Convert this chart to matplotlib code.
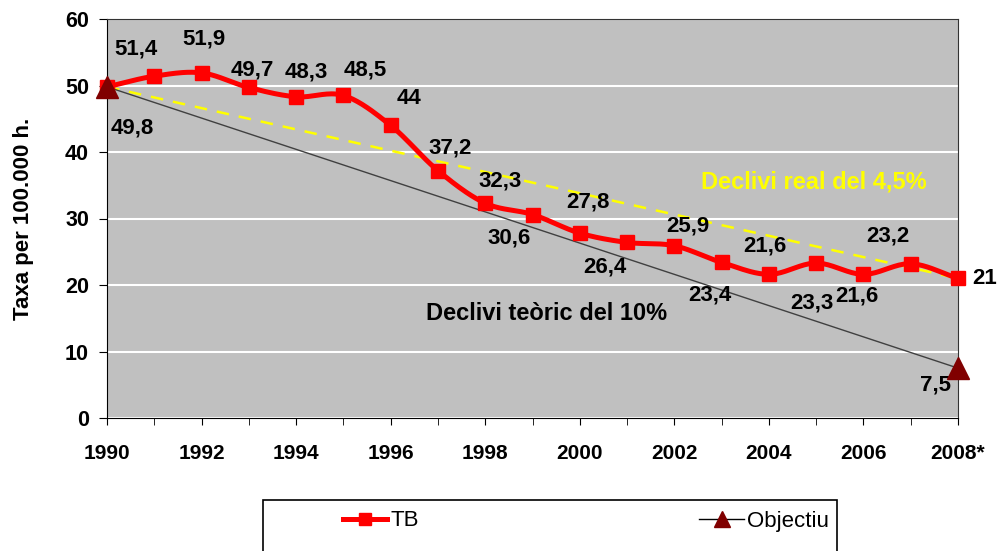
import numpy as np
import matplotlib.pyplot as plt
from matplotlib.lines import Line2D
from matplotlib.patches import Rectangle

plt.rcParams['font.family'] = ['Liberation Sans', 'DejaVu Sans']

# Data
years = np.arange(1990, 2009)
tb = [49.8, 51.4, 51.9, 49.7, 48.3, 48.5, 44, 37.2, 32.3, 30.6, 27.8,
      26.4, 25.9, 23.4, 21.6, 23.3, 21.6, 23.2, 21]
obj_years = [1990, 2008]
obj_vals = [49.8, 7.5]
real_vals = [49.8, 21]
xtick_years = list(range(1990, 2009, 2))
xtick_labels = [str(y) for y in xtick_years[:-1]] + ['2008*']

# label offsets in pixels (dx, dy) for each TB point
tb_off = [(25, -41), (-18, 27), (2, 34), (3, 17), (10, 25), (22, 25), (18, 27),
          (12, 23), (15, 22), (-23, -23), (8, 31), (-22, -25), (14, 20),
          (-12, -33), (-4, 28), (-4, -40), (-7, -22), (-23, 28), (27, 0)]


def smooth(x, y, n=20):
    # Catmull-Rom spline through the points (like Excel's smoothed line)
    x = np.asarray(x, float); y = np.asarray(y, float)
    px = np.concatenate([[2 * x[0] - x[1]], x, [2 * x[-1] - x[-2]]])
    py = np.concatenate([[2 * y[0] - y[1]], y, [2 * y[-1] - y[-2]]])
    xs, ys = [], []
    t = np.linspace(0, 1, n, endpoint=False)
    for i in range(1, len(px) - 2):
        for p, out in ((px, xs), (py, ys)):
            p0, p1, p2, p3 = p[i - 1], p[i], p[i + 1], p[i + 2]
            out.extend(0.5 * ((2 * p1) + (-p0 + p2) * t
                              + (2 * p0 - 5 * p1 + 4 * p2 - p3) * t ** 2
                              + (-p0 + 3 * p1 - 3 * p2 + p3) * t ** 3))
    xs.append(x[-1]); ys.append(y[-1])
    return xs, ys


fig = plt.figure(figsize=(9.98, 5.51), dpi=100)
ax = fig.add_axes([107 / 998, 1 - 418 / 551, 851 / 998, 399 / 551])
ax.set_facecolor('#c0c0c0')
ax.set_xlim(1990, 2008)
ax.set_ylim(0, 60)
ax.set_yticks(range(0, 61, 10))
ax.yaxis.grid(True, color='white', linewidth=1.5)
ax.set_axisbelow(True)
ax.set_xticks(xtick_years)
ax.set_xticklabels(xtick_labels, fontsize=15, fontweight='bold')
ax.set_xticks(years, minor=True)
ax.tick_params(axis='x', which='both', direction='out', length=5, pad=14)
ax.tick_params(axis='y', direction='out', length=6, labelsize=15.5, pad=7)
for lab in ax.get_yticklabels():
    lab.set_fontweight('bold')
for s in ax.spines.values():
    s.set_color('#333333')
ax.spines['left'].set_color('black')
ax.spines['bottom'].set_color('black')
ax.set_ylabel('Taxa per 100.000 h.', fontsize=16, fontweight='bold', labelpad=22)

# lines
ax.plot(obj_years, real_vals, color='#ffff00', lw=1.8, ls=(0, (5, 4)), zorder=3)
ax.plot(obj_years, obj_vals, color='#404040', lw=1, zorder=3)
ax.plot(obj_years, obj_vals, ls='none', marker='^', ms=16, color='#800000',
        clip_on=False, zorder=5)
sx, sy = smooth(years, tb)
ax.plot(sx, sy, color='#ff0000', lw=3.6, zorder=4, clip_on=False)
ax.plot(years, tb, ls='none', marker='s', ms=10, color='#ff0000', zorder=4,
        clip_on=False)

for x, v, (dx, dy) in zip(years, tb, tb_off):
    ax.annotate(f'{v:g}'.replace('.', ','), (x, v), xytext=(dx * 0.72, dy * 0.72),
                textcoords='offset points', ha='center', va='center',
                fontsize=16, fontweight='bold', annotation_clip=False)
ax.annotate('7,5', (obj_years[1], obj_vals[1]), xytext=(-23 * 0.72, -17 * 0.72),
            textcoords='offset points', ha='center', va='center',
            fontsize=16, fontweight='bold', annotation_clip=False)

ax.text(2004.95, 35.5, 'Declivi real del 4,5%', color='#ffff00', fontsize=17,
        fontweight='bold', ha='center', va='center')
ax.text(1999.3, 15.7, 'Declivi teòric del 10%', color='black', fontsize=17,
        fontweight='bold', ha='center', va='center')

# legend: box cut by the bottom edge, as in the reference
fig.patches.append(Rectangle((263 / 998, -0.05), 574 / 998, 0.05 + 51 / 551,
                             transform=fig.transFigure, fill=False,
                             edgecolor='black', lw=1.2))
handles = [Line2D([], [], color='#ff0000', lw=3.6, marker='s', ms=9),
           Line2D([], [], color='black', lw=1, marker='^', ms=12,
                  markerfacecolor='#800000', markeredgecolor='#800000')]
fig.legend(handles, ['TB', 'Objectiu'], ncol=2, loc='center left',
           bbox_to_anchor=(343 / 998, 1 - 521 / 551), fontsize=16,
           frameon=False, borderpad=0, borderaxespad=0, handlelength=2.0,
           handletextpad=0.15, columnspacing=12.6)

fig.savefig('out.png', dpi=100)
